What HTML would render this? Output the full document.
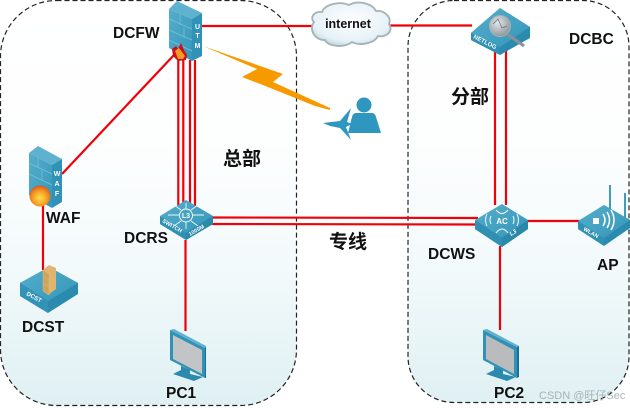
<!DOCTYPE html>
<html><head><meta charset="utf-8"><style>
html,body{margin:0;padding:0;background:#fff;width:630px;height:408px;overflow:hidden}
svg{display:block;filter:blur(.3px)}
text{font-family:"Liberation Sans","Noto Sans CJK SC",sans-serif;font-weight:700;fill:#111}
.l{font-size:15.500px}
.c{font-size:19px}
.i{fill:#fff;font-size:7px}
</style></head><body>
<svg width="630" height="408" viewBox="0 0 630 408" xmlns="http://www.w3.org/2000/svg">
<defs>
<linearGradient id="bg" x1="0" y1="0" x2="0" y2="1"><stop offset="0" stop-color="#fff"/><stop offset=".35" stop-color="#fdfefe"/><stop offset=".65" stop-color="#f3fafb"/><stop offset="1" stop-color="#dff0f3"/></linearGradient>
<linearGradient id="top" x1="0" y1="0" x2="1" y2="1"><stop offset="0" stop-color="#55aecb"/><stop offset="1" stop-color="#3596b9"/></linearGradient>
<radialGradient id="cloud" cx=".5" cy=".4" r=".7"><stop offset="0" stop-color="#fff"/><stop offset=".7" stop-color="#e6f1f7"/><stop offset="1" stop-color="#a9c6d8"/></radialGradient>
<radialGradient id="fire" cx=".5" cy=".6" r=".6"><stop offset="0" stop-color="#ffe14d"/><stop offset=".6" stop-color="#f59a23"/><stop offset="1" stop-color="#d9541a"/></radialGradient>
<radialGradient id="glass" cx=".4" cy=".35" r=".7"><stop offset="0" stop-color="#e2e6e8"/><stop offset="1" stop-color="#8b9398"/></radialGradient>
</defs>

<!-- zones -->
<rect x="0.500" y="0.500" width="296" height="405" rx="56" fill="url(#bg)" stroke="#222" stroke-width="1.200" stroke-dasharray="5 3"/>
<rect x="408" y="0.500" width="221" height="402" rx="46" fill="url(#bg)" stroke="#222" stroke-width="1.200" stroke-dasharray="5 3"/>

<!-- connectors -->
<g stroke="#f00008" stroke-width="2.200" fill="none">
<path d="M202 26H320"/>
<path d="M388 25.500H472"/>
<path d="M174 55L62 174"/>
<path d="M178.300 58V208M183.300 60V208M190 60V208M195 60V208"/>
<path d="M43 200V270"/>
<path d="M212 217.500L478 218M212 224L478 224.500"/>
<path d="M185.500 240V331"/>
<path d="M495 50V205M506 50V205"/>
<path d="M527 221H580"/>
<path d="M500 246V330"/>
</g>

<!-- lightning -->
<path d="M203 46L283 74L273 82L330 108V110L315 106L263 85L242 77L257 69Z" fill="#f79a00"/>

<!-- DCFW -->
<g>
<path d="M169 9L177 1L202 13L192 19Z" fill="#5fb2cf"/>
<path d="M169 9L192 19V61L169 48Z" fill="url(#top)"/>
<path d="M192 19L202 13V56L192 61Z" fill="#2f92b6"/>
<g stroke="#79c0d9" stroke-width=".7" fill="none"><path d="M169 19L192 29M169 30L192 40M169 40L192 51M180 14V25M184 28V38"/></g>
<text class="i" x="197.500" y="29" text-anchor="middle">U</text>
<text class="i" x="197.500" y="38" text-anchor="middle">T</text>
<text class="i" x="197.500" y="48" text-anchor="middle">M</text>
<path d="M172 49L176 46L178 49L181 43L184 50L187 55L186 60L178 61L173 56Z" fill="#c9101c"/>
<path d="M175 51L179 48L182 52L185 56L183 59L178 59Z" fill="#f59a23"/>
</g>

<!-- cloud -->
<path d="M314 22C309 17 315 11 322 12C325 4 340 1 349 5C357 0 372 3 376 11C384 10 392 17 389 24C394 31 386 38 378 36C374 44 359 46 352 42C345 48 328 47 325 40C316 41 308 30 314 22Z" fill="url(#cloud)" stroke="#a3b3b5" stroke-width="1.800"/>
<text x="348" y="28" text-anchor="middle" style="font-size:12.500px">internet</text>

<!-- NETLOG -->
<g>
<path d="M471 33L500 8L530 27V38L500 55L471 40Z" fill="#2b8bae"/>
<path d="M471 33L500 8L530 27L500 47Z" fill="url(#top)"/>
<path d="M471 33L500 47V55L471 40Z" fill="#2f90b4"/>
<text transform="translate(473 38) rotate(27)" style="font-size:6px;fill:#fff">NETLOG</text>
<circle cx="500" cy="26" r="10.500" fill="url(#glass)" stroke="#aab2b6"/>
<path d="M507 34L524 46" stroke="#8a9297" stroke-width="3"/>
<path d="M493 24L498 19L502 28L507 26" stroke="#5f7480" stroke-width=".7" fill="none"/>
</g>

<!-- user with plane -->
<g fill="#2f97bf">
<circle cx="364" cy="105" r="7.500"/>
<path d="M356 113H372Q375 113 376 117L381 133H348L352 117Q353 113 356 113Z"/>
<path d="M323 123L340 121L351 108L347 122L352 124L346 127L351 140L340 128L330 126Z"/>
</g>

<!-- WAF -->
<g>
<path d="M29 153L38 146L62 159L52 165Z" fill="#5fb2cf"/>
<path d="M29 153L52 165V208L29 195Z" fill="url(#top)"/>
<path d="M52 165L62 159V202L52 208Z" fill="#2f92b6"/>
<g stroke="#79c0d9" stroke-width=".7" fill="none"><path d="M29 163L52 174M29 174L52 185M38 158V168M42 170V180"/></g>
<text class="i" x="57" y="176" text-anchor="middle">W</text>
<text class="i" x="57" y="186" text-anchor="middle">A</text>
<text class="i" x="57" y="196" text-anchor="middle">F</text>
<circle cx="40" cy="196" r="10.500" fill="url(#fire)"/>
</g>

<!-- DCST -->
<g>
<path d="M20 283L49 267L78 283V294L48 313L20 296Z" fill="#2b8bae"/>
<path d="M20 283L49 267L78 283L48 301Z" fill="url(#top)"/>
<path d="M20 283L48 301V313L20 296Z" fill="#3293b7"/>
<text transform="translate(26 295) rotate(28)" style="font-size:6px;fill:#fff">DCST</text>
<path d="M43 270L49 265L56 268V289L48 295L43 291Z" fill="#dfb670"/>
<path d="M43 270L49 274V295L43 291ZM43 276L49 280M43 283L49 287" fill="#d0a45a" stroke="#e7c486" stroke-width=".4"/>
</g>

<!-- DCRS -->
<g>
<path d="M160 218L186 202L213 218V224L186 240L160 224Z" fill="#2b8bae"/>
<path d="M160 216L186 200L213 216L186 233Z" fill="url(#top)"/>
<path d="M160 216L186 233V240L160 224Z" fill="#3090b4"/>
<path d="M186 233L213 216V224L186 240Z" fill="#2a88ab"/>
<circle cx="186" cy="215.500" r="6.500" fill="none" stroke="#fff" stroke-width=".9"/>
<text x="186" y="218.200" text-anchor="middle" style="font-size:7px;fill:#fff">L3</text>
<path d="M179 215H168M193 215H204M181 210L174 205M191 210L198 205M181 221L174 226M191 221L198 226M186 209V203M186 222V229" stroke="#eef7fa" stroke-width=".9" fill="none"/>
<text transform="translate(162 222) rotate(30)" style="font-size:5.500px;fill:#fff">SWITCH</text>
<text transform="translate(190 236) rotate(-30)" style="font-size:5.500px;fill:#fff">1000M</text>
</g>

<!-- DCWS -->
<g>
<path d="M475 222L502 205L528 222V229L502 247L475 229Z" fill="#2b8bae"/>
<path d="M475 220L502 204L528 220L502 238Z" fill="url(#top)"/>
<path d="M475 220L502 238V247L475 229Z" fill="#3090b4"/>
<path d="M502 238L528 220V229L502 247Z" fill="#2a88ab"/>
<text x="502" y="224" text-anchor="middle" style="font-size:8px;fill:#fff">AC</text>
<g stroke="#f2f9fb" stroke-width="1" fill="none">
<path d="M487 214Q484 220 487 226M491 216Q489 220 491 224M517 214Q520 220 517 226M513 216Q515 220 513 224"/>
<path d="M496 210Q502 217 508 210M496 233Q502 225 508 233"/>
</g>
<text transform="translate(511 236) rotate(-30)" style="font-size:6px;fill:#fff;font-style:italic">L3</text>
</g>

<!-- AP -->
<g>
<path d="M610 220V185" stroke="#3f9cbf" stroke-width="2"/>
<path d="M625 219V193" stroke="#3f9cbf" stroke-width="2"/>
<path d="M578 222L604 205L630 220V228L604 246L578 229Z" fill="#2b8bae"/>
<path d="M578 221L604 205L630 220L604 238Z" fill="url(#top)"/>
<path d="M578 221L604 238V246L578 229Z" fill="#3090b4"/>
<rect x="593" y="218" width="6" height="6" fill="#fff"/>
<path d="M603 214Q607 220 603 226M607 212Q612 220 607 228M611 210Q617 220 611 230" stroke="#fff" stroke-width="1.500" fill="none"/>
<text transform="translate(583 230) rotate(30)" style="font-size:5.500px;fill:#fff">WLAN</text>
</g>

<!-- PC1 -->
<g>
<path d="M170 330L205 348V378L170 360Z" fill="#2f92b6"/>
<path d="M173 335L202 350V374L173 359Z" fill="#c2c4c6"/>
<path d="M170 330L174 329L206 346L205 348Z" fill="#5fb2cf"/>
<path d="M205 348L206 346V378L205 378Z" fill="#1c6f8f"/>
<path d="M181 366L190 370V374L203 377L194 381L173 374L181 370Z" fill="#2a8bae"/>
</g>

<!-- PC2 -->
<g>
<path d="M483 330L517 347V378L483 360Z" fill="#2f92b6"/>
<path d="M486 335L514 350V374L486 359Z" fill="#b9bbbd"/>
<path d="M483 330L487 329L519 346L517 347Z" fill="#5fb2cf"/>
<path d="M517 347L519 346V377L517 378Z" fill="#1c6f8f"/>
<path d="M494 366L503 370V374L516 377L507 381L486 374L494 370Z" fill="#2a8bae"/>
</g>

<!-- labels -->
<text class="l" x="113" y="38">DCFW</text>
<text class="l" x="569" y="44">DCBC</text>
<text class="c" x="223" y="165">总部</text>
<text class="c" x="451" y="103">分部</text>
<text class="c" x="329" y="248">专线</text>
<text class="l" x="46" y="223">WAF</text>
<text class="l" x="124" y="243">DCRS</text>
<text class="l" x="428" y="259">DCWS</text>
<text class="l" x="597" y="270">AP</text>
<text class="l" x="22" y="332">DCST</text>
<text class="l" x="166" y="398">PC1</text>
<text class="l" x="494" y="398">PC2</text>
<text x="539" y="399" style="font-size:11px;font-weight:400;fill:#9aa3a8;opacity:.8">CSDN @旺仔Sec</text>
</svg>
</body></html>
